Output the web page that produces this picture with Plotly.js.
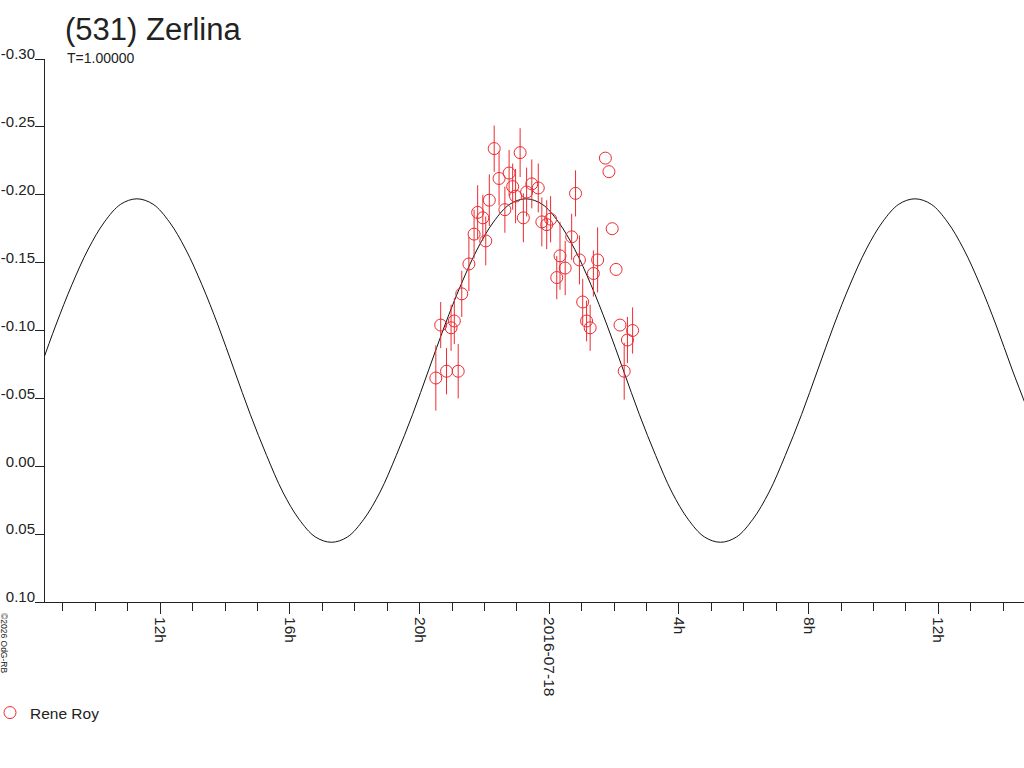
<!DOCTYPE html>
<html>
<head>
<meta charset="utf-8">
<script src="https://cdn.plot.ly/plotly-3.0.1.min.js"></script>
<style>
  html, body { margin: 0; padding: 0; background: #fff; }
  #chart { width: 1024px; height: 768px; }
</style>
</head>
<body>
<div id="chart"></div>
<script>
// observations: hours from 2016-07-18 0h, magnitude, error
const obsHours = [-3.50, -3.35, -3.17, -3.03, -2.93, -2.81, -2.70, -2.48, -2.32, -2.21,
  -2.05, -1.96, -1.85, -1.70, -1.55, -1.37, -1.24, -1.13, -1.04, -0.90,
  -0.80, -0.70, -0.54, -0.34, -0.23, -0.08, 0.04, 0.23, 0.33, 0.49,
  0.69, 0.81, 0.93, 1.03, 1.15, 1.26, 1.36, 1.49, 1.73, 1.84,
  1.94, 2.06, 2.18, 2.31, 2.41, 2.57];
const obsMag = [-0.065, -0.104, -0.070, -0.102, -0.107, -0.070, -0.127, -0.149, -0.171, -0.187,
  -0.183, -0.166, -0.196, -0.234, -0.212, -0.189, -0.216, -0.206, -0.199, -0.231,
  -0.183, -0.202, -0.208, -0.205, -0.180, -0.178, -0.182, -0.139, -0.155, -0.146,
  -0.169, -0.201, -0.152, -0.121, -0.107, -0.102, -0.142, -0.152, -0.227, -0.217,
  -0.175, -0.145, -0.104, -0.070, -0.093, -0.100];
const obsErr = [0.024, 0.017, 0.017, 0.017, 0.017, 0.020, 0.017, 0.020, 0.018, 0.020,
  0.017, 0.018, 0.019, 0.017, 0.020, 0.017, 0.017, 0.017, 0.020, 0.018,
  0.018, 0.018, 0.018, 0.018, 0.018, 0.018, 0.017, 0.016, 0.025, 0.020,
  0.017, 0.017, 0.018, 0.017, 0.015, 0.017, 0.017, 0.024, 0, 0,
  0, 0, 0, 0.021, 0.017, 0.017];

// fitted curve
const curveHours = [-15.72, -15.22, -14.72, -14.22, -13.72, -13.22, -12.72, -12.22, -11.72, -11.22,
  -10.72, -10.22, -9.72, -9.22, -8.72, -8.22, -7.72, -7.22, -6.72, -6.22,
  -5.72, -5.22, -4.72, -4.22, -3.72, -3.22, -2.72, -2.22, -1.72, -1.22,
  -0.72, -0.22, 0.28, 0.78, 1.28, 1.78, 2.28, 2.78, 3.28, 3.78,
  4.28, 4.78, 5.28, 5.78, 6.28, 6.78, 7.28, 7.78, 8.28, 8.78,
  9.28, 9.78, 10.28, 10.78, 11.28, 11.78, 12.28, 12.78, 13.28, 13.78,
  14.28, 14.78];
const curveMag = [-0.071, -0.104, -0.134, -0.160, -0.180, -0.193, -0.197, -0.193, -0.180, -0.160,
  -0.134, -0.104, -0.071, -0.038, -0.008, 0.019, 0.039, 0.052, 0.056, 0.052,
  0.039, 0.019, -0.008, -0.038, -0.071, -0.104, -0.134, -0.160, -0.180, -0.193,
  -0.197, -0.193, -0.180, -0.160, -0.134, -0.104, -0.071, -0.038, -0.008, 0.019,
  0.039, 0.052, 0.056, 0.052, 0.039, 0.019, -0.008, -0.038, -0.071, -0.104,
  -0.134, -0.160, -0.180, -0.193, -0.197, -0.193, -0.180, -0.160, -0.134, -0.104,
  -0.071, -0.040];

const xTickVals = [-12, -8, -4, 0, 4, 8, 12];
const xTickText = ['12h', '16h', '20h', '2016-07-18', '4h', '8h', '12h'];
const yTickVals = [-0.30, -0.25, -0.20, -0.15, -0.10, -0.05, 0.00, 0.05, 0.10];
const yTickText = ['-0.30', '-0.25', '-0.20', '-0.15', '-0.10', '-0.05', '0.00', '0.05', '0.10'];

const red = '#ee2a30';
const axisCol = '#222222';
const fam = '"Liberation Sans", Arial, sans-serif';

Plotly.newPlot('chart', [
  {
    x: curveHours,
    y: curveMag,
    type: 'scatter',
    mode: 'lines',
    line: { color: '#111', width: 1, shape: 'spline' },
    showlegend: false,
    hoverinfo: 'skip'
  },
  {
    x: obsHours,
    y: obsMag,
    type: 'scatter',
    mode: 'markers',
    name: 'Rene Roy',
    marker: { symbol: 'circle-open', size: 12, color: red, line: { width: 1, color: red } },
    error_y: { type: 'data', array: obsErr, visible: true, color: red, thickness: 1, width: 0 }
  }
], {
  width: 1024,
  height: 768,
  margin: { l: 45, r: 0, t: 59, b: 166, autoexpand: false },
  paper_bgcolor: '#fff',
  plot_bgcolor: '#fff',
  font: { family: fam, size: 15.5, color: axisCol },
  title: {
    text: '(531) Zerlina',
    font: { size: 31, color: axisCol },
    xref: 'container', yref: 'container',
    x: 65 / 1024, xanchor: 'left',
    y: 1 - 29 / 768, yanchor: 'middle'
  },
  xaxis: {
    range: [-15.555, 14.642],
    showgrid: false, zeroline: false,
    showline: true, linecolor: axisCol, linewidth: 1,
    tickmode: 'array', tickvals: xTickVals, ticktext: xTickText,
    ticks: 'outside', ticklen: 11, tickcolor: axisCol, tickwidth: 1,
    tickangle: 90,
    minor: { tickmode: 'linear', tick0: 0, dtick: 1, ticks: 'outside', ticklen: 8, tickcolor: axisCol, tickwidth: 1, showgrid: false }
  },
  yaxis: {
    range: [0.10, -0.30],
    showgrid: false, zeroline: false,
    showline: true, linecolor: axisCol, linewidth: 1,
    tickmode: 'array', tickvals: yTickVals, ticktext: yTickText,
    ticks: 'outside', ticklen: 9, tickcolor: axisCol, tickwidth: 1,
    ticklabelshift: 5, ticklabelstandoff: -3,
    tickfont: { size: 15 }
  },
  showlegend: true,
  legend: {
    xref: 'paper', yref: 'paper',
    x: (-10 - 45) / 979, y: (602 - 713) / 543, xanchor: 'left', yanchor: 'middle',
    bgcolor: 'rgba(0,0,0,0)', borderwidth: 0,
    font: { size: 15.5, color: axisCol }
  },
  annotations: [
    {
      text: 'T=1.00000', xref: 'paper', yref: 'paper',
      x: (65 - 45) / 979, y: (602 - 58) / 543, xanchor: 'left', yanchor: 'middle',
      showarrow: false, font: { size: 14, color: axisCol }
    },
    {
      text: '©2026 OdG-RB', xref: 'paper', yref: 'paper',
      x: (4 - 45) / 979, y: (602 - 643) / 543, xanchor: 'center', yanchor: 'middle',
      textangle: 90, showarrow: false, font: { size: 8.5, color: axisCol }
    }
  ]
}, { displayModeBar: false, staticPlot: true });
</script>
</body>
</html>
